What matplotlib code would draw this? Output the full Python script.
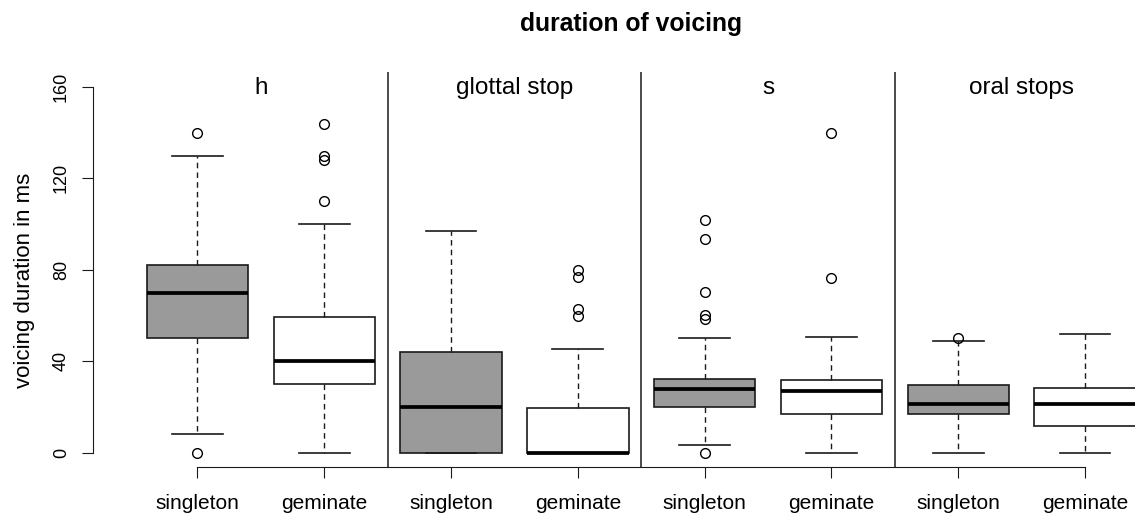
import matplotlib
matplotlib.use("Agg")
import matplotlib.pyplot as plt

plt.rcParams['font.family'] = ['Liberation Sans', 'DejaVu Sans']

# box summaries per sound / length, in ms
panels = ["h", "glottal stop", "s", "oral stops"]
groups = ["singleton", "geminate"] * 4
whislo = [8, 0, 0, 0, 3.4, 0, 0, 0]
q1 = [50, 30, 0, 0, 19.8, 16.9, 16.8, 11.8]
med = [70, 40, 20, 0, 27.7, 26.9, 21.2, 21.2]
q3 = [82, 59.2, 43.9, 19.7, 32.2, 31.8, 29.8, 28.2]
whishi = [130, 100, 97, 45.5, 50, 50.8, 48.7, 51.9]
fliers = [
    [140, 0],
    [144, 130, 128, 110],
    [],
    [80, 77, 63, 60],
    [102, 93.5, 70.2, 60.1, 58.4, 0],
    [140, 76.4],
    [50],
    [],
]
fills = ["#9a9a9a", "white"] * 4

W, H = 1135, 515
fig = plt.figure(figsize=(W / 100, H / 100), dpi=100)
# plot region runs past the right edge of the canvas
ax = fig.add_axes([93.5 / W, 47.7 / H, (1189 - 93.5) / W, (467.3 - 72.3) / H])

stats = []
for i in range(len(groups)):
    stats.append(dict(label=groups[i], whislo=whislo[i], q1=q1[i], med=med[i],
                      q3=q3[i], whishi=whishi[i], fliers=fliers[i]))

ink = "#1a1a1a"
pos = list(range(1, len(groups) + 1))
bp = ax.bxp(stats, positions=pos, widths=0.8, capwidths=0.4, patch_artist=True,
            boxprops=dict(edgecolor=ink, linewidth=1.2),
            medianprops=dict(color="black", linewidth=2.7, solid_capstyle="butt"),
            whiskerprops=dict(color=ink, linewidth=1.0, linestyle=(0, (4, 3))),
            capprops=dict(color=ink, linewidth=1.2),
            flierprops=dict(marker="o", markerfacecolor="none", markeredgecolor="black",
                            markersize=7, markeredgewidth=1.0))
for patch, c in zip(bp["boxes"], fills):
    patch.set_facecolor(c)

for x in [2.5, 4.5, 6.5]:
    ax.axvline(x, color=ink, linewidth=1.1)

for k, name in enumerate(panels):
    ax.text(1.5 + 2 * k, 157, name, ha="center", va="baseline", fontsize=17.5)

ax.set_xlim(0.18, 8.82)
ax.set_ylim(-6.4, 166.4)

for s in ["top", "right"]:
    ax.spines[s].set_visible(False)
ax.spines["left"].set_bounds(0, 160)
ax.spines["bottom"].set_bounds(1, 8)
ax.spines["left"].set_color(ink)
ax.spines["bottom"].set_color(ink)

ax.set_xticks(pos)
ax.set_xticklabels(groups, fontsize=15)
ax.set_yticks([0, 40, 80, 120, 160])
ax.set_yticklabels(["0", "40", "80", "120", "160"], fontsize=13, rotation=90, va="center")
ax.tick_params(axis="x", length=8, pad=11, color=ink)
ax.tick_params(axis="y", length=8, pad=9, color=ink)

fig.text(25 / W, 1 - 280 / H, "voicing duration in ms", rotation=90,
         ha="center", va="center", fontsize=16)
fig.text(631 / W, 1 - 31 / H, "duration of voicing", ha="center", va="baseline",
         fontsize=17.8, fontweight="bold")

fig.savefig("out.png", dpi=100)
